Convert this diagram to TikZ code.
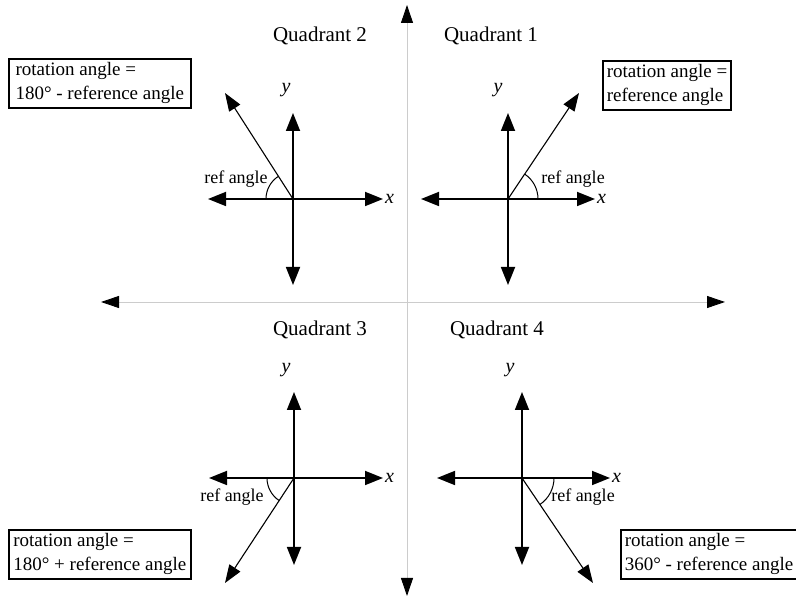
\documentclass[tikz,border=0pt]{standalone}
\usepackage{fontspec}
\setmainfont{Liberation Serif}
\usetikzlibrary{arrows.meta}
\begin{document}
\begin{tikzpicture}[x=1pt,y=1pt,
  mainaxis/.style={draw=black!20, line width=0.9pt,
    {Triangle[length=18pt,width=12pt,color=black]}-{Triangle[length=18pt,width=12pt,color=black]}},
  qaxis/.style={line width=1.8pt,
    {Triangle[length=18pt,width=14pt]}-{Triangle[length=18pt,width=14pt]}},
  ray/.style={line width=1.1pt, -{Triangle[length=18pt,width=13pt]}},
  angarc/.style={line width=1pt},
  qlab/.style={font=\fontsize{21}{24}\selectfont},
  reflab/.style={font=\fontsize{18}{20}\selectfont, inner sep=0pt},
  axlab/.style={font=\fontsize{20}{22}\selectfont\itshape, inner sep=0pt},
  rbox/.style={draw, line width=1.6pt, inner xsep=4pt, inner ysep=2pt, align=left,
    minimum height=49pt, font=\fontsize{19}{24}\selectfont}
]
\useasboundingbox (0,0) rectangle (796,600);

% main axes
\coordinate (mt) at (407,595);
\coordinate (mb) at (407,4);
\coordinate (ml) at (101,298);
\coordinate (mr) at (725,298);
\draw[mainaxis] (mb) -- (mt);
\draw[mainaxis] (ml) -- (mr);

% quadrant titles
\node[qlab] (t2) at (320,564) {Quadrant 2};
\node[qlab] (t1) at (491,564) {Quadrant 1};
\node[qlab] (t3) at (320,270) {Quadrant 3};
\node[qlab] (t4) at (497,270) {Quadrant 4};

% ---------- Quadrant 2 ----------
\coordinate (o2) at (293,401);
\coordinate (u2) at (293,487);
\coordinate (d2) at (293,315);
\coordinate (l2) at (208,401);
\coordinate (r2) at (383,401);
\coordinate (p2) at (225,507);
\draw[qaxis] (d2) -- (u2);
\draw[qaxis] (l2) -- (r2);
\draw[ray] (o2) -- (p2);
\draw[angarc] ([shift={(122:27)}]o2) arc[start angle=122,end angle=180,radius=27];
\node[axlab, anchor=west] (x2) at (385,401) {x};
\node[axlab] (y2) at (286,510) {y};
\node[reflab] (a2) at (236,421) {ref angle};

% ---------- Quadrant 1 ----------
\coordinate (o1) at (508,401);
\coordinate (u1) at (508,487);
\coordinate (d1) at (508,315);
\coordinate (l1) at (421,401);
\coordinate (r1) at (595,401);
\coordinate (p1) at (579,507);
\draw[qaxis] (d1) -- (u1);
\draw[qaxis] (l1) -- (r1);
\draw[ray] (o1) -- (p1);
\draw[angarc] ([shift={(0:30)}]o1) arc[start angle=0,end angle=56,radius=30];
\node[axlab, anchor=west] (x1) at (597,401) {x};
\node[axlab] (y1) at (498,510) {y};
\node[reflab] (a1) at (573,421) {ref angle};

% ---------- Quadrant 3 ----------
\coordinate (o3) at (294,122);
\coordinate (u3) at (294,208);
\coordinate (d3) at (294,35);
\coordinate (l3) at (209,122);
\coordinate (r3) at (383,122);
\coordinate (p3) at (225,17);
\draw[qaxis] (d3) -- (u3);
\draw[qaxis] (l3) -- (r3);
\draw[ray] (o3) -- (p3);
\draw[angarc] ([shift={(180:27)}]o3) arc[start angle=180,end angle=237,radius=27];
\node[axlab, anchor=west] (x3) at (385,122) {x};
\node[axlab] (y3) at (286,230) {y};
\node[reflab] (a3) at (232,103) {ref angle};

% ---------- Quadrant 4 ----------
\coordinate (o4) at (522,122);
\coordinate (u4) at (522,208);
\coordinate (d4) at (522,35);
\coordinate (l4) at (437,122);
\coordinate (r4) at (610,122);
\coordinate (p4) at (593,17);
\draw[qaxis] (d4) -- (u4);
\draw[qaxis] (l4) -- (r4);
\draw[ray] (o4) -- (p4);
\draw[angarc] ([shift={(-56:32)}]o4) arc[start angle=-56,end angle=0,radius=32];
\node[axlab, anchor=west] (x4) at (612,122) {x};
\node[axlab] (y4) at (510,230) {y};
\node[reflab] (a4) at (583,103) {ref angle};

% ---------- boxes ----------
\node[rbox, minimum width=182pt, anchor=north west] (b2) at (8,542)
  {rotation angle =\\180° - reference angle};
\node[rbox, minimum width=126pt, anchor=north west] (b1) at (602,540)
  {rotation angle =\\reference angle};
\node[rbox, minimum width=182pt, anchor=north west] (b3) at (8,71)
  {rotation angle =\\180° + reference angle};
\node[rbox, minimum width=175pt, anchor=north west] (b4) at (620,71)
  {rotation angle =\\360° - reference angle};
\end{tikzpicture}
\end{document}
